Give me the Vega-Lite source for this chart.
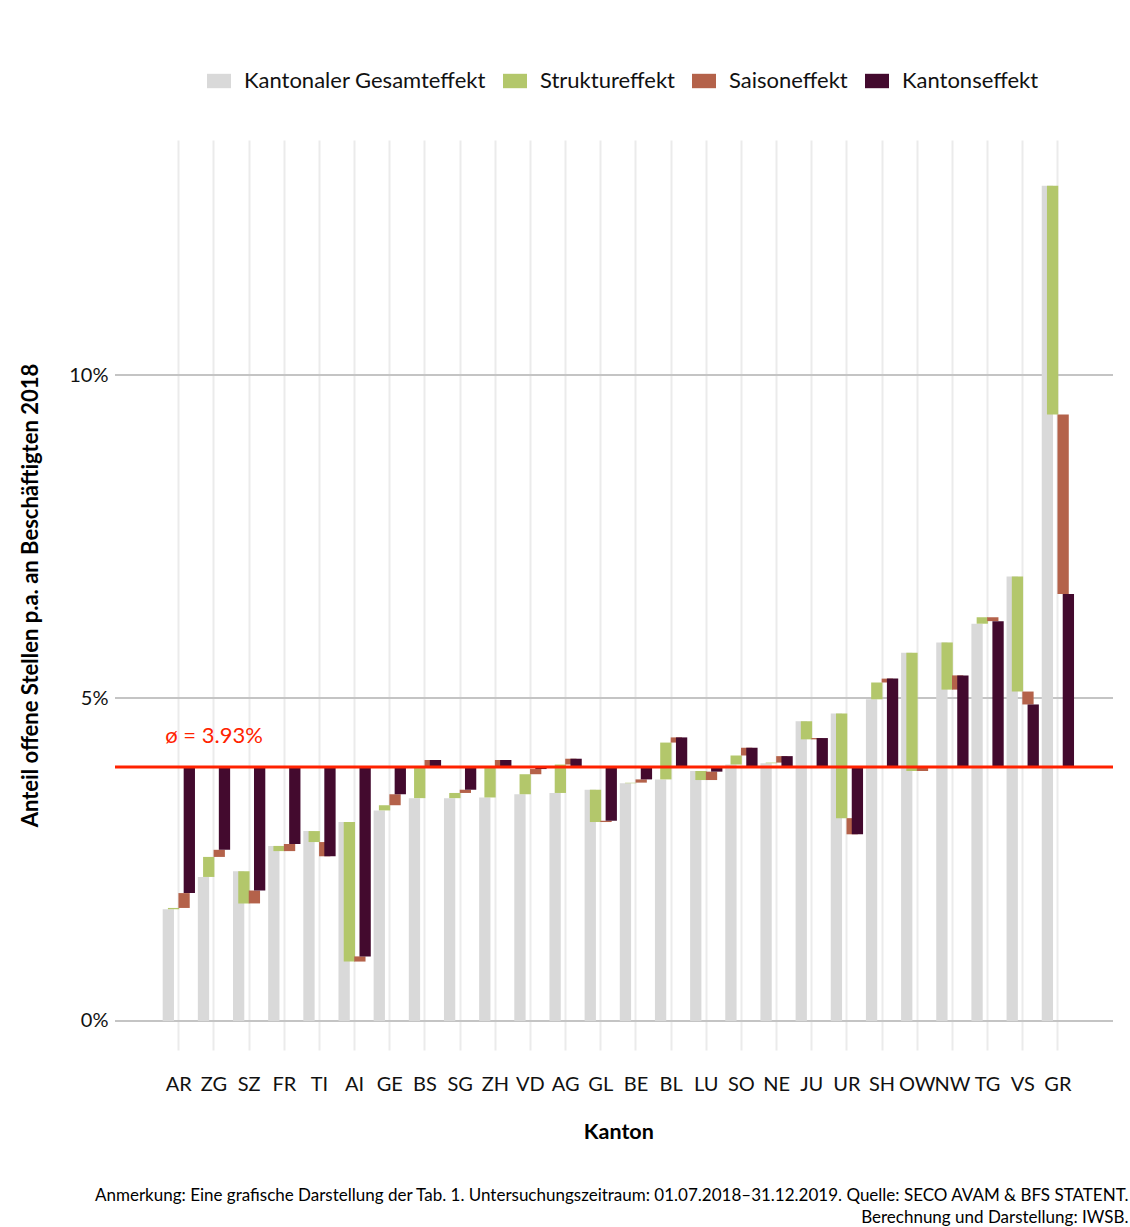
{
  "$schema": "https://vega.github.io/schema/vega-lite/v6.json",
  "autosize": {"type": "none"},
  "width": 998,
  "height": 910,
  "padding": {"left": 115, "top": 140, "right": 17, "bottom": 177},
  "background": "white",
  "config": {"font": "Lato", "view": {"stroke": null}},
  "title": {
    "text": ["Anmerkung: Eine grafische Darstellung der Tab. 1. Untersuchungszeitraum: 01.07.2018–31.12.2019. Quelle: SECO AVAM & BFS STATENT.", "Berechnung und Darstellung: IWSB."],
    "orient": "bottom", "anchor": "end", "fontSize": 17, "fontWeight": "normal", "color": "#000", "offset": 45, "dx": 14, "lineHeight": 22
  },
  "layer": [
    {
      "data": {"values": [{"Gitter": 0}, {"Gitter": 5}, {"Gitter": 10}]},
      "mark": {"type": "rule", "color": "#c4c4c4", "strokeWidth": 2},
      "encoding": {"y": {"field": "Gitter", "type": "quantitative"}}
    },
    {
      "data": {"values": [
        {"Kanton": "AR", "Effekt": "Kantonaler Gesamteffekt", "von": 0, "bis": 1.73},
        {"Kanton": "AR", "Effekt": "Struktureffekt", "von": 1.73, "bis": 1.75},
        {"Kanton": "AR", "Effekt": "Saisoneffekt", "von": 1.75, "bis": 1.98},
        {"Kanton": "AR", "Effekt": "Kantonseffekt", "von": 1.98, "bis": 3.93},
        {"Kanton": "ZG", "Effekt": "Kantonaler Gesamteffekt", "von": 0, "bis": 2.23},
        {"Kanton": "ZG", "Effekt": "Struktureffekt", "von": 2.23, "bis": 2.54},
        {"Kanton": "ZG", "Effekt": "Saisoneffekt", "von": 2.54, "bis": 2.65},
        {"Kanton": "ZG", "Effekt": "Kantonseffekt", "von": 2.65, "bis": 3.93},
        {"Kanton": "SZ", "Effekt": "Kantonaler Gesamteffekt", "von": 0, "bis": 2.32},
        {"Kanton": "SZ", "Effekt": "Struktureffekt", "von": 2.32, "bis": 1.82},
        {"Kanton": "SZ", "Effekt": "Saisoneffekt", "von": 1.82, "bis": 2.02},
        {"Kanton": "SZ", "Effekt": "Kantonseffekt", "von": 2.02, "bis": 3.93},
        {"Kanton": "FR", "Effekt": "Kantonaler Gesamteffekt", "von": 0, "bis": 2.71},
        {"Kanton": "FR", "Effekt": "Struktureffekt", "von": 2.71, "bis": 2.63},
        {"Kanton": "FR", "Effekt": "Saisoneffekt", "von": 2.63, "bis": 2.74},
        {"Kanton": "FR", "Effekt": "Kantonseffekt", "von": 2.74, "bis": 3.93},
        {"Kanton": "TI", "Effekt": "Kantonaler Gesamteffekt", "von": 0, "bis": 2.94},
        {"Kanton": "TI", "Effekt": "Struktureffekt", "von": 2.94, "bis": 2.77},
        {"Kanton": "TI", "Effekt": "Saisoneffekt", "von": 2.77, "bis": 2.55},
        {"Kanton": "TI", "Effekt": "Kantonseffekt", "von": 2.55, "bis": 3.93},
        {"Kanton": "AI", "Effekt": "Kantonaler Gesamteffekt", "von": 0, "bis": 3.08},
        {"Kanton": "AI", "Effekt": "Struktureffekt", "von": 3.08, "bis": 0.92},
        {"Kanton": "AI", "Effekt": "Saisoneffekt", "von": 0.92, "bis": 1.0},
        {"Kanton": "AI", "Effekt": "Kantonseffekt", "von": 1.0, "bis": 3.93},
        {"Kanton": "GE", "Effekt": "Kantonaler Gesamteffekt", "von": 0, "bis": 3.26},
        {"Kanton": "GE", "Effekt": "Struktureffekt", "von": 3.26, "bis": 3.34},
        {"Kanton": "GE", "Effekt": "Saisoneffekt", "von": 3.34, "bis": 3.51},
        {"Kanton": "GE", "Effekt": "Kantonseffekt", "von": 3.51, "bis": 3.93},
        {"Kanton": "BS", "Effekt": "Kantonaler Gesamteffekt", "von": 0, "bis": 3.45},
        {"Kanton": "BS", "Effekt": "Struktureffekt", "von": 3.45, "bis": 3.93},
        {"Kanton": "BS", "Effekt": "Saisoneffekt", "von": 3.93, "bis": 4.04},
        {"Kanton": "BS", "Effekt": "Kantonseffekt", "von": 4.04, "bis": 3.93},
        {"Kanton": "SG", "Effekt": "Kantonaler Gesamteffekt", "von": 0, "bis": 3.45},
        {"Kanton": "SG", "Effekt": "Struktureffekt", "von": 3.45, "bis": 3.53},
        {"Kanton": "SG", "Effekt": "Saisoneffekt", "von": 3.53, "bis": 3.58},
        {"Kanton": "SG", "Effekt": "Kantonseffekt", "von": 3.58, "bis": 3.93},
        {"Kanton": "ZH", "Effekt": "Kantonaler Gesamteffekt", "von": 0, "bis": 3.46},
        {"Kanton": "ZH", "Effekt": "Struktureffekt", "von": 3.46, "bis": 3.93},
        {"Kanton": "ZH", "Effekt": "Saisoneffekt", "von": 3.93, "bis": 4.04},
        {"Kanton": "ZH", "Effekt": "Kantonseffekt", "von": 4.04, "bis": 3.93},
        {"Kanton": "VD", "Effekt": "Kantonaler Gesamteffekt", "von": 0, "bis": 3.51},
        {"Kanton": "VD", "Effekt": "Struktureffekt", "von": 3.51, "bis": 3.82},
        {"Kanton": "VD", "Effekt": "Saisoneffekt", "von": 3.82, "bis": 3.9},
        {"Kanton": "VD", "Effekt": "Kantonseffekt", "von": 3.9, "bis": 3.93},
        {"Kanton": "AG", "Effekt": "Kantonaler Gesamteffekt", "von": 0, "bis": 3.53},
        {"Kanton": "AG", "Effekt": "Struktureffekt", "von": 3.53, "bis": 3.97},
        {"Kanton": "AG", "Effekt": "Saisoneffekt", "von": 3.97, "bis": 4.06},
        {"Kanton": "AG", "Effekt": "Kantonseffekt", "von": 4.06, "bis": 3.93},
        {"Kanton": "GL", "Effekt": "Kantonaler Gesamteffekt", "von": 0, "bis": 3.58},
        {"Kanton": "GL", "Effekt": "Struktureffekt", "von": 3.58, "bis": 3.08},
        {"Kanton": "GL", "Effekt": "Saisoneffekt", "von": 3.08, "bis": 3.1},
        {"Kanton": "GL", "Effekt": "Kantonseffekt", "von": 3.1, "bis": 3.93},
        {"Kanton": "BE", "Effekt": "Kantonaler Gesamteffekt", "von": 0, "bis": 3.68},
        {"Kanton": "BE", "Effekt": "Struktureffekt", "von": 3.68, "bis": 3.69},
        {"Kanton": "BE", "Effekt": "Saisoneffekt", "von": 3.69, "bis": 3.74},
        {"Kanton": "BE", "Effekt": "Kantonseffekt", "von": 3.74, "bis": 3.93},
        {"Kanton": "BL", "Effekt": "Kantonaler Gesamteffekt", "von": 0, "bis": 3.74},
        {"Kanton": "BL", "Effekt": "Struktureffekt", "von": 3.74, "bis": 4.31},
        {"Kanton": "BL", "Effekt": "Saisoneffekt", "von": 4.31, "bis": 4.39},
        {"Kanton": "BL", "Effekt": "Kantonseffekt", "von": 4.39, "bis": 3.93},
        {"Kanton": "LU", "Effekt": "Kantonaler Gesamteffekt", "von": 0, "bis": 3.87},
        {"Kanton": "LU", "Effekt": "Struktureffekt", "von": 3.87, "bis": 3.73},
        {"Kanton": "LU", "Effekt": "Saisoneffekt", "von": 3.73, "bis": 3.86},
        {"Kanton": "LU", "Effekt": "Kantonseffekt", "von": 3.86, "bis": 3.93},
        {"Kanton": "SO", "Effekt": "Kantonaler Gesamteffekt", "von": 0, "bis": 3.97},
        {"Kanton": "SO", "Effekt": "Struktureffekt", "von": 3.97, "bis": 4.11},
        {"Kanton": "SO", "Effekt": "Saisoneffekt", "von": 4.11, "bis": 4.23},
        {"Kanton": "SO", "Effekt": "Kantonseffekt", "von": 4.23, "bis": 3.93},
        {"Kanton": "NE", "Effekt": "Kantonaler Gesamteffekt", "von": 0, "bis": 3.99},
        {"Kanton": "NE", "Effekt": "Struktureffekt", "von": 3.99, "bis": 4.0},
        {"Kanton": "NE", "Effekt": "Saisoneffekt", "von": 4.0, "bis": 4.1},
        {"Kanton": "NE", "Effekt": "Kantonseffekt", "von": 4.1, "bis": 3.93},
        {"Kanton": "JU", "Effekt": "Kantonaler Gesamteffekt", "von": 0, "bis": 4.64},
        {"Kanton": "JU", "Effekt": "Struktureffekt", "von": 4.64, "bis": 4.36},
        {"Kanton": "JU", "Effekt": "Saisoneffekt", "von": 4.36, "bis": 4.38},
        {"Kanton": "JU", "Effekt": "Kantonseffekt", "von": 4.38, "bis": 3.93},
        {"Kanton": "UR", "Effekt": "Kantonaler Gesamteffekt", "von": 0, "bis": 4.76},
        {"Kanton": "UR", "Effekt": "Struktureffekt", "von": 4.76, "bis": 3.14},
        {"Kanton": "UR", "Effekt": "Saisoneffekt", "von": 3.14, "bis": 2.89},
        {"Kanton": "UR", "Effekt": "Kantonseffekt", "von": 2.89, "bis": 3.93},
        {"Kanton": "SH", "Effekt": "Kantonaler Gesamteffekt", "von": 0, "bis": 4.98},
        {"Kanton": "SH", "Effekt": "Struktureffekt", "von": 4.98, "bis": 5.24},
        {"Kanton": "SH", "Effekt": "Saisoneffekt", "von": 5.24, "bis": 5.3},
        {"Kanton": "SH", "Effekt": "Kantonseffekt", "von": 5.3, "bis": 3.93},
        {"Kanton": "OW", "Effekt": "Kantonaler Gesamteffekt", "von": 0, "bis": 5.7},
        {"Kanton": "OW", "Effekt": "Struktureffekt", "von": 5.7, "bis": 3.87},
        {"Kanton": "OW", "Effekt": "Saisoneffekt", "von": 3.87, "bis": 3.92},
        {"Kanton": "OW", "Effekt": "Kantonseffekt", "von": 3.92, "bis": 3.93},
        {"Kanton": "NW", "Effekt": "Kantonaler Gesamteffekt", "von": 0, "bis": 5.86},
        {"Kanton": "NW", "Effekt": "Struktureffekt", "von": 5.86, "bis": 5.13},
        {"Kanton": "NW", "Effekt": "Saisoneffekt", "von": 5.13, "bis": 5.35},
        {"Kanton": "NW", "Effekt": "Kantonseffekt", "von": 5.35, "bis": 3.93},
        {"Kanton": "TG", "Effekt": "Kantonaler Gesamteffekt", "von": 0, "bis": 6.15},
        {"Kanton": "TG", "Effekt": "Struktureffekt", "von": 6.15, "bis": 6.25},
        {"Kanton": "TG", "Effekt": "Saisoneffekt", "von": 6.25, "bis": 6.19},
        {"Kanton": "TG", "Effekt": "Kantonseffekt", "von": 6.19, "bis": 3.93},
        {"Kanton": "VS", "Effekt": "Kantonaler Gesamteffekt", "von": 0, "bis": 6.88},
        {"Kanton": "VS", "Effekt": "Struktureffekt", "von": 6.88, "bis": 5.1},
        {"Kanton": "VS", "Effekt": "Saisoneffekt", "von": 5.1, "bis": 4.9},
        {"Kanton": "VS", "Effekt": "Kantonseffekt", "von": 4.9, "bis": 3.93},
        {"Kanton": "GR", "Effekt": "Kantonaler Gesamteffekt", "von": 0, "bis": 12.93},
        {"Kanton": "GR", "Effekt": "Struktureffekt", "von": 12.93, "bis": 9.39},
        {"Kanton": "GR", "Effekt": "Saisoneffekt", "von": 9.39, "bis": 6.61},
        {"Kanton": "GR", "Effekt": "Kantonseffekt", "von": 6.61, "bis": 3.93}
      ]},
      "mark": {"type": "bar", "width": 11.3},
      "encoding": {
        "x": {
          "field": "Kanton", "type": "nominal", "sort": null,
          "scale": {"paddingInner": 0.2536, "paddingOuter": 0, "rangeMin": 50.7, "rangeMax": 956},
          "axis": {
            "title": "Kanton", "titleFontSize": 21.5, "titleFontWeight": "bold", "titleColor": "#000", "titlePadding": 27,
            "labelAngle": 0, "labelFontSize": 20, "labelPadding": 24, "labelColor": "#111",
            "ticks": false, "domain": false, "grid": true, "gridColor": "#ebebeb", "gridWidth": 2
          }
        },
        "xOffset": {
          "field": "Effekt", "type": "nominal",
          "scale": {"domain": ["Kantonaler Gesamteffekt", "Struktureffekt", "_", "Saisoneffekt", "Kantonseffekt"], "paddingInner": 0, "paddingOuter": 0}
        },
        "y": {
          "field": "von", "type": "quantitative",
          "scale": {"domain": [-0.449, 13.638], "nice": false, "zero": false},
          "axis": {
            "values": [0, 5, 10], "labelExpr": "datum.value + '%'",
            "title": "Anteil offene Stellen p.a. an Beschäftigten 2018", "titleFontSize": 22, "titleFontWeight": "bold", "titleColor": "#000", "titlePadding": 26,
            "labelFontSize": 20, "labelPadding": 7, "labelColor": "#111",
            "ticks": false, "domain": false, "grid": false
          }
        },
        "y2": {"field": "bis"},
        "color": {
          "field": "Effekt", "type": "nominal",
          "scale": {"domain": ["Kantonaler Gesamteffekt", "Struktureffekt", "Saisoneffekt", "Kantonseffekt"], "range": ["#d9d9d9", "#b3c76b", "#b4624a", "#430a2e"]},
          "legend": {
            "title": null, "orient": "none", "legendX": 92, "legendY": -71, "direction": "horizontal",
            "labelFontSize": 22, "labelColor": "#111", "labelOffset": 13, "columnPadding": 17, "labelLimit": 400,
            "symbolType": "M-1,-0.6L1,-0.6L1,0.6L-1,0.6Z", "symbolSize": 576, "symbolStrokeWidth": 0, "symbolOpacity": 1
          }
        }
      }
    },
    {
      "data": {"values": [{"Mittelwert": 3.93}]},
      "mark": {"type": "rule", "color": "#ff2200", "strokeWidth": 3},
      "encoding": {"y": {"field": "Mittelwert", "type": "quantitative"}}
    },
    {
      "data": {"values": [{"Kanton": "ZG", "Position": 4.41, "Beschriftung": "ø = 3.93%"}]},
      "mark": {"type": "text", "color": "#ff2200", "fontSize": 22, "align": "center", "baseline": "middle"},
      "encoding": {
        "x": {"field": "Kanton", "type": "nominal", "sort": null},
        "y": {"field": "Position", "type": "quantitative"},
        "text": {"field": "Beschriftung"}
      }
    }
  ]
}
